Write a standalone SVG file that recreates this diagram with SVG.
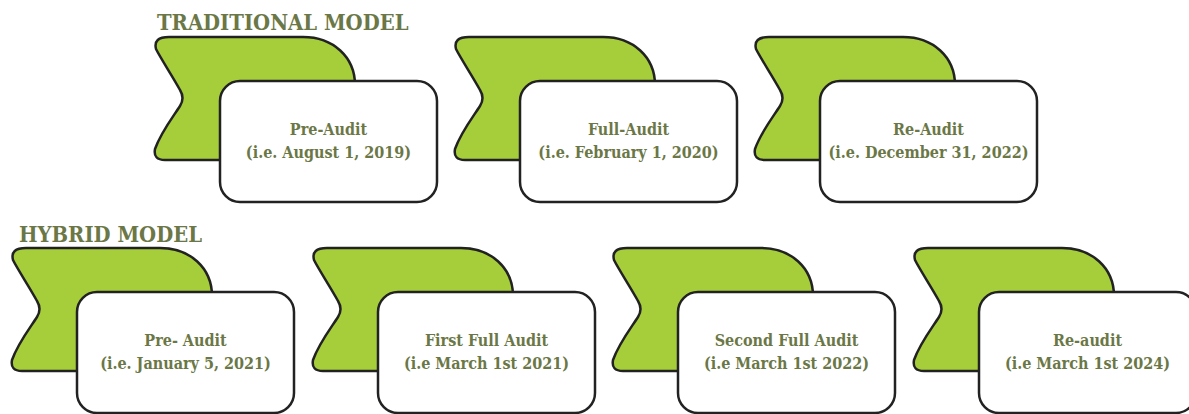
<svg xmlns="http://www.w3.org/2000/svg" width="1189" height="414" viewBox="0 0 1189 414">
<defs>
<style>
.g{fill:#a6cd3a;stroke:#222;stroke-width:2.5;stroke-linejoin:round}
.w{fill:#fff;stroke:#222;stroke-width:2.5}
.t{font-family:"DejaVu Serif Condensed","DejaVu Serif",serif;font-weight:bold;font-size:16px;fill:#6b7746;text-anchor:middle}
.h{font-family:"DejaVu Serif Condensed","DejaVu Serif",serif;font-weight:bold;font-size:21.8px;fill:#6b7746}
</style>
<path id="flag" d="M16,0 H150 C180,0 202,20 202,48 V123 H12 Q0,123 2,112 C8,95 20,80 27,69 Q32,61 27,53 C20,40 8,22 3,12 Q0,0 16,0 Z"/>
</defs>
<text class="h" x="157" y="30">TRADITIONAL MODEL</text>
<text class="h" x="19" y="242">HYBRID MODEL</text>
<g id="n1" transform="translate(153,37)">
<use href="#flag" class="g"/><rect class="w" x="67" y="44" width="217" height="121" rx="20"/>
<text class="t" x="175.5" y="98">Pre-Audit</text><text class="t" x="175.5" y="121">(i.e. August 1, 2019)</text>
</g>
<g id="n2" transform="translate(453,37)">
<use href="#flag" class="g"/><rect class="w" x="67" y="44" width="217" height="121" rx="20"/>
<text class="t" x="175.5" y="98">Full-Audit</text><text class="t" x="175.5" y="121">(i.e. February 1, 2020)</text>
</g>
<g id="n3" transform="translate(753,37)">
<use href="#flag" class="g"/><rect class="w" x="67" y="44" width="217" height="121" rx="20"/>
<text class="t" x="175.5" y="98">Re-Audit</text><text class="t" x="175.5" y="121">(i.e. December 31, 2022)</text>
</g>
<g id="n4" transform="translate(10,248)">
<use href="#flag" class="g"/><rect class="w" x="67" y="44" width="217" height="121" rx="20"/>
<text class="t" x="175.5" y="98">Pre- Audit</text><text class="t" x="175.5" y="121">(i.e. January 5, 2021)</text>
</g>
<g id="n5" transform="translate(311,248)">
<use href="#flag" class="g"/><rect class="w" x="67" y="44" width="217" height="121" rx="20"/>
<text class="t" x="175.5" y="98">First Full Audit</text><text class="t" x="175.5" y="121">(i.e March 1st 2021)</text>
</g>
<g id="n6" transform="translate(611,248)">
<use href="#flag" class="g"/><rect class="w" x="67" y="44" width="217" height="121" rx="20"/>
<text class="t" x="175.5" y="98">Second Full Audit</text><text class="t" x="175.5" y="121">(i.e March 1st 2022)</text>
</g>
<g id="n7" transform="translate(912,248)">
<use href="#flag" class="g"/><rect class="w" x="67" y="44" width="217" height="121" rx="20"/>
<text class="t" x="175.5" y="98">Re-audit</text><text class="t" x="175.5" y="121">(i.e March 1st 2024)</text>
</g>
<g id="connectors"/>
</svg>
